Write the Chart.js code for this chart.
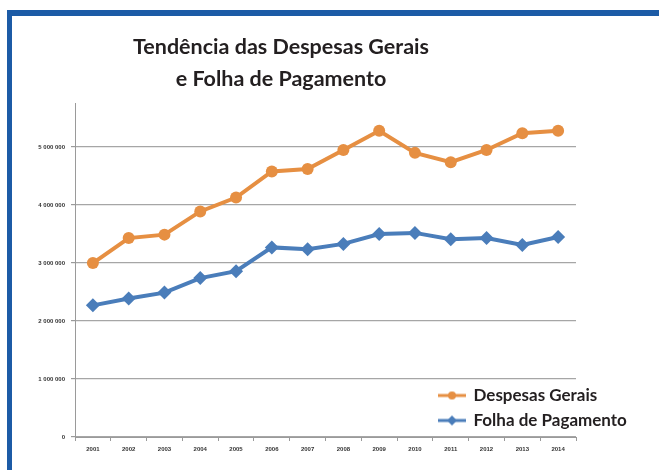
<!DOCTYPE html>
<html>
<head>
<meta charset="utf-8">
<script src="https://cdn.jsdelivr.net/npm/chart.js@4.4.1/dist/chart.umd.min.js"></script>
<style>
  html,body{margin:0;padding:0;background:#fff;}
  #wrap{position:relative;width:659px;height:470px;overflow:hidden;}
  #frameTop{position:absolute;left:7px;top:10px;width:652px;height:6px;background:#1c5ba6;}
  #frameLeft{position:absolute;left:7px;top:10px;width:5px;height:460px;background:#1c5ba6;}
  canvas{position:absolute;left:0;top:0;}
</style>
</head>
<body>
<div id="wrap">
  <div id="frameTop"></div>
  <div id="frameLeft"></div>
  <canvas id="c" width="659" height="470"></canvas>
</div>
<script>
const titleLines = ['Tendência das Despesas Gerais', 'e Folha de Pagamento'];
const categories = ['2001','2002','2003','2004','2005','2006','2007','2008','2009','2010','2011','2012','2013','2014'];
const despesasGerais = [3000000,3430000,3490000,3890000,4130000,4580000,4620000,4950000,5280000,4900000,4740000,4950000,5240000,5280000];
const folhaPagamento = [2270000,2390000,2490000,2740000,2860000,3270000,3240000,3330000,3500000,3520000,3410000,3430000,3310000,3450000];
const yTicks = [0,1000000,2000000,3000000,4000000,5000000];
const seriesNames = ['Despesas Gerais','Folha de Pagamento'];

const ORANGE = '#e68f42';
const BLUE = '#4a7dba';

function makeIcon(color, shape){
  const c = document.createElement('canvas');
  c.width = 28; c.height = 12;
  const g = c.getContext('2d');
  g.strokeStyle = color; g.lineWidth = 3;
  g.beginPath(); g.moveTo(0,6); g.lineTo(28,6); g.stroke();
  g.fillStyle = color; g.beginPath();
  if (shape === 'circle') { g.arc(14,6,4,0,Math.PI*2); }
  else { g.moveTo(14,1); g.lineTo(19,6); g.lineTo(14,11); g.lineTo(9,6); g.closePath(); }
  g.fill();
  return c;
}
const icons = [makeIcon(ORANGE,'circle'), makeIcon(BLUE,'diamond')];

const fmt = v => String(v).replace(/\B(?=(\d{3})+(?!\d))/g, ' ');

const placer = {
  id: 'placer',
  afterLayout(chart){
    const t = chart.titleBlock;
    if (t) { t.left = 0; t.right = 562; }
    const l = chart.legend;
    if (l) {
      const w = l.width, h = l.height;
      l.left = 431; l.right = l.left + w;
      l.top = 379; l.bottom = l.top + h;
    }
  }
};

const tickFont = { family: 'Liberation Sans', weight: 'bold', size: 6 };

new Chart(document.getElementById('c'), {
  type: 'line',
  data: {
    labels: categories,
    datasets: [
      { label: seriesNames[0], data: despesasGerais, borderColor: ORANGE, backgroundColor: ORANGE,
        borderWidth: 4, pointStyle: 'circle', pointRadius: 6, pointBackgroundColor: ORANGE,
        pointBorderWidth: 0, tension: 0 },
      { label: seriesNames[1], data: folhaPagamento, borderColor: BLUE, backgroundColor: BLUE,
        borderWidth: 4, pointStyle: 'rectRot', pointRadius: 7, pointBackgroundColor: BLUE,
        pointBorderWidth: 0, tension: 0 }
    ]
  },
  options: {
    responsive: false,
    animation: false,
    devicePixelRatio: 1,
    layout: { padding: { left: 0, right: 83, top: 31, bottom: 0 } },
    plugins: {
      tooltip: { enabled: false },
      title: {
        display: true,
        text: titleLines,
        color: '#231f20',
        font: { family: 'Lato', weight: 'bold', size: 21.5, lineHeight: 32/21.5 },
        padding: { top: 0, bottom: 8 }
      },
      legend: {
        display: true,
        position: 'chartArea',
        align: 'start',
        labels: {
          usePointStyle: true,
          pointStyleWidth: 26,
          padding: 8,
          color: '#231f20',
          font: { family: 'Lato', weight: 'bold', size: 17 },
          generateLabels(chart){
            return Chart.defaults.plugins.legend.labels.generateLabels(chart)
              .map((it, i) => Object.assign({}, it, { pointStyle: icons[i] }));
          }
        }
      }
    },
    scales: {
      x: {
        offset: true,
        grid: { display: true, drawOnChartArea: false, drawTicks: true, tickLength: 4, offset: true, color: '#9a9a9a' },
        border: { display: true, color: '#9a9a9a' },
        ticks: { color: '#333', font: tickFont, padding: 5, maxRotation: 0, autoSkip: false },
        afterFit(s){ s.height = 33; }
      },
      y: {
        min: 0,
        max: 5760000,
        afterBuildTicks(s){ s.ticks = yTicks.map(v => ({ value: v })); },
        grid: { color: '#a6a6a6', lineWidth: 1.2, drawTicks: true, tickLength: 4, tickColor: '#9a9a9a' },
        border: { display: true, color: '#9a9a9a' },
        ticks: { color: '#333', font: tickFont, padding: 6, callback: v => fmt(v) },
        afterFit(s){ s.width = 75; }
      }
    }
  },
  plugins: [placer]
});
</script>
</body>
</html>
